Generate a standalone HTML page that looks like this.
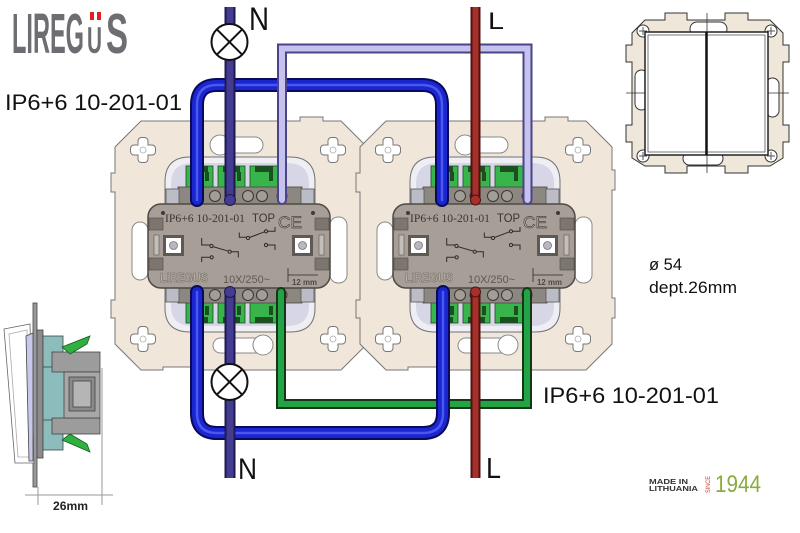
<!DOCTYPE html>
<html><head><meta charset="utf-8"><style>
html,body{margin:0;padding:0;background:#fff;}
svg{display:block;}
</style></head><body>
<svg width="800" height="533" viewBox="0 0 800 533" xmlns="http://www.w3.org/2000/svg" font-family="Liberation Sans, sans-serif">
<defs>
<g id="cr">
 <rect x="-12" y="-4.5" width="24" height="9" rx="3" fill="none" stroke="#777" stroke-width="2"/>
 <rect x="-4.5" y="-12" width="9" height="24" rx="3" fill="none" stroke="#777" stroke-width="2"/>
 <rect x="-12" y="-4.5" width="24" height="9" rx="3" fill="#fff"/>
 <rect x="-4.5" y="-12" width="9" height="24" rx="3" fill="#fff"/>
 <circle cx="0" cy="0" r="3" fill="none" stroke="#aaa" stroke-width="0.8"/>
</g>
<g id="plate">
 <path d="M0,26 L26,0 L185,0 L185,-4 L208,-4 L208,0 L226,0 L252,26 L252,49 L255,49 L255,69 L252,69 L252,177 L255,177 L255,197 L252,197 L252,223 L226,249 L85,249 L85,246 L48,246 L48,249 L26,249 L0,223 L0,197 L-4,197 L-4,179 L0,179 L0,71 L-4,71 L-4,52 L0,52 Z" fill="#f0e7da" stroke="#777" stroke-width="1"/>
 <use href="#cr" x="28" y="29"/>
 <use href="#cr" x="218" y="29"/>
 <use href="#cr" x="28" y="218"/>
 <use href="#cr" x="218" y="218"/>
 <g fill="#fff" stroke="#888" stroke-width="1">
  <rect x="100" y="16" width="48" height="16" rx="8"/>
  <circle cx="105" cy="24" r="10"/>
  <rect x="98" y="217" width="55" height="15" rx="7.5"/>
  <circle cx="148" cy="224" r="10"/>
  <rect x="17" y="101" width="16" height="58" rx="8"/>
  <rect x="215" y="96" width="17" height="66" rx="8"/>
 </g>
</g>
<g id="mod">
 <path d="M165,212 V182 Q165,157 190,157 H290 Q315,157 315,182 V212 Z" fill="#eeeef3" stroke="#707078"/>
 <path d="M171,210 V184 Q171,163 193,163 H287 Q309,163 309,184 V210 Z" fill="#d6d6e6"/>
 <g stroke="#1d4a22" stroke-width="0.8" fill="#38b54a">
  <rect x="186" y="166" width="27" height="22"/>
  <rect x="218" y="166" width="27" height="22"/>
  <rect x="250" y="166" width="28" height="22"/>
 </g>
 <g fill="#1b4f22">
  <rect x="191" y="166" width="17" height="6"/>
  <rect x="223" y="166" width="17" height="6"/>
  <rect x="255" y="166" width="18" height="6"/>
  <rect x="205" y="172" width="4" height="9"/>
  <rect x="237" y="172" width="4" height="9"/>
  <rect x="269" y="172" width="4" height="9"/>
 </g>
 <rect x="178" y="187" width="124" height="18" fill="#8d8781" stroke="#4a4540" stroke-width="0.8"/>
 <rect x="166" y="189" width="13" height="17" fill="#bcbcc6" stroke="#555" stroke-width="0.8"/>
 <rect x="301" y="189" width="13" height="17" fill="#bcbcc6" stroke="#555" stroke-width="0.8"/>
 <g fill="#a39d97" stroke="#3a3632" stroke-width="1">
  <circle cx="215" cy="196" r="5.5"/><circle cx="248" cy="196" r="5.5"/><circle cx="262" cy="196" r="5.5"/>
  <circle cx="197" cy="196" r="5"/><circle cx="230" cy="196" r="5"/><circle cx="282" cy="196" r="5"/>
 </g>
 <path d="M165,282 V308 Q165,332 190,332 H290 Q315,332 315,308 V282 Z" fill="#eeeef3" stroke="#707078"/>
 <path d="M171,284 V306 Q171,326 193,326 H287 Q309,326 309,306 V284 Z" fill="#d6d6e6"/>
 <g stroke="#1d4a22" stroke-width="0.8" fill="#38b54a">
  <rect x="186" y="302" width="27" height="21"/>
  <rect x="218" y="302" width="27" height="21"/>
  <rect x="250" y="302" width="28" height="21"/>
 </g>
 <g fill="#1b4f22">
  <rect x="191" y="317" width="17" height="6"/>
  <rect x="223" y="317" width="17" height="6"/>
  <rect x="255" y="317" width="18" height="6"/>
  <rect x="205" y="306" width="4" height="9"/>
  <rect x="237" y="306" width="4" height="9"/>
  <rect x="269" y="306" width="4" height="9"/>
 </g>
 <rect x="178" y="286" width="124" height="17" fill="#8d8781" stroke="#4a4540" stroke-width="0.8"/>
 <rect x="166" y="285" width="13" height="17" fill="#bcbcc6" stroke="#555" stroke-width="0.8"/>
 <rect x="301" y="285" width="13" height="17" fill="#bcbcc6" stroke="#555" stroke-width="0.8"/>
 <g fill="#a39d97" stroke="#3a3632" stroke-width="1">
  <circle cx="215" cy="295" r="5.5"/><circle cx="248" cy="295" r="5.5"/><circle cx="262" cy="295" r="5.5"/>
  <circle cx="197" cy="295" r="5"/><circle cx="230" cy="295" r="5"/><circle cx="282" cy="295" r="5"/>
 </g>
 <rect x="148" y="204" width="182" height="84" rx="13" fill="#a79f97" stroke="#4e4944" stroke-width="1.5"/>
 <g fill="#7d7670" stroke="#4e4944" stroke-width="0.6">
  <rect x="149" y="218" width="14" height="12"/>
  <rect x="149" y="258" width="14" height="12"/>
  <rect x="315" y="218" width="14" height="12"/>
  <rect x="315" y="258" width="14" height="12"/>
 </g>
 <g fill="#c4beb8" stroke="#5a5550" stroke-width="0.6">
  <rect x="154" y="235" width="5" height="20"/>
  <rect x="319" y="235" width="5" height="20"/>
 </g>
 <rect x="163" y="235" width="21" height="21" fill="#5e5954"/>
 <rect x="166" y="238" width="15" height="15" fill="#fff"/>
 <circle cx="173.5" cy="245.5" r="4" fill="#b8b8c2" stroke="#777" stroke-width="0.8"/>
 <rect x="292" y="235" width="21" height="21" fill="#5e5954"/>
 <rect x="295" y="238" width="15" height="15" fill="#fff"/>
 <circle cx="302.5" cy="245.5" r="4" fill="#b8b8c2" stroke="#777" stroke-width="0.8"/>
 <circle cx="163" cy="213" r="2" fill="#3e3a36"/>
 <circle cx="313" cy="213" r="2" fill="#3e3a36"/>
 <g fill="none" stroke="#2e2a26" stroke-width="1">
  <path d="M201.7,238 V245 H210"/>
  <path d="M212.5,246.5 L228.5,251.2"/>
  <path d="M231,251.7 H238.3 V257.5"/>
  <path d="M201.7,262 V257.3 H210"/>
  <path d="M239.3,232.5 V237.3 H246.5"/>
  <path d="M249.5,237.5 L264.5,231.8"/>
  <path d="M267.5,231.3 H275 V227"/>
  <path d="M267.5,245 H275 V250"/>
  <circle cx="211.5" cy="246" r="1.6"/>
  <circle cx="229.7" cy="251.7" r="1.6"/>
  <circle cx="211.7" cy="257.3" r="1.6"/>
  <circle cx="248" cy="238" r="1.6"/>
  <circle cx="266" cy="231.3" r="1.6"/>
  <circle cx="266" cy="245" r="1.6"/>
  <path d="M288,268 V282 M288,275 H318" stroke-width="0.8"/>
 </g>
</g>
</defs>
<rect width="800" height="533" fill="#fff"/>

<!-- Logo -->
<g fill="#6d6e71" font-weight="bold">
<text x="12" y="53" font-size="57" textLength="72" lengthAdjust="spacingAndGlyphs">LIREG</text>
<text x="87" y="53" font-size="37" textLength="15" lengthAdjust="spacingAndGlyphs">U</text>
<text x="106" y="53" font-size="57" textLength="22" lengthAdjust="spacingAndGlyphs">S</text>
</g>
<rect x="90" y="12" width="4" height="8" fill="#e02020"/>
<rect x="97" y="12" width="4" height="8" fill="#e02020"/>

<!-- plates -->
<use href="#plate" transform="translate(115,121)"/>
<use href="#plate" transform="translate(360,121)"/>

<!-- modules -->
<use href="#mod"/>
<use href="#mod" transform="translate(245,0)"/>

<!-- module text left -->
<g>
<text x="165" y="222" style="font-family:'Liberation Serif',serif" font-size="12" fill="#3a3530" textLength="80" lengthAdjust="spacingAndGlyphs">IP6+6 10-201-01</text>
<text x="252" y="222" font-size="12" fill="#3a3530" textLength="23" lengthAdjust="spacingAndGlyphs">TOP</text>
<text x="278" y="228" font-size="17" fill="#bdb6ae" stroke="#4a4540" stroke-width="0.7" textLength="24" lengthAdjust="spacingAndGlyphs">CE</text>
<text x="160" y="282" font-size="12.5" font-weight="bold" fill="#b8b0a8" stroke="#6a655f" stroke-width="0.5" textLength="48" lengthAdjust="spacingAndGlyphs">LIREGUS</text>
<text x="223" y="283" font-size="11" fill="#5e5954" textLength="47" lengthAdjust="spacingAndGlyphs">10X/250~</text>
<text x="292" y="285" font-size="8" font-weight="bold" fill="#4e4944" textLength="25" lengthAdjust="spacingAndGlyphs">12 mm</text>
</g>
<!-- module text right -->
<g transform="translate(245,0)">
<text x="165" y="222" style="font-family:'Liberation Serif',serif" font-size="12" fill="#3a3530" textLength="80" lengthAdjust="spacingAndGlyphs">IP6+6 10-201-01</text>
<text x="252" y="222" font-size="12" fill="#3a3530" textLength="23" lengthAdjust="spacingAndGlyphs">TOP</text>
<text x="278" y="228" font-size="17" fill="#bdb6ae" stroke="#4a4540" stroke-width="0.7" textLength="24" lengthAdjust="spacingAndGlyphs">CE</text>
<text x="160" y="282" font-size="12.5" font-weight="bold" fill="#b8b0a8" stroke="#6a655f" stroke-width="0.5" textLength="48" lengthAdjust="spacingAndGlyphs">LIREGUS</text>
<text x="223" y="283" font-size="11" fill="#5e5954" textLength="47" lengthAdjust="spacingAndGlyphs">10X/250~</text>
<text x="292" y="285" font-size="8" font-weight="bold" fill="#4e4944" textLength="25" lengthAdjust="spacingAndGlyphs">12 mm</text>
</g>

<!-- wires -->
<g fill="none">
 <!-- green -->
 <path d="M281,292 V404 H527 V292" stroke="#173617" stroke-width="10" stroke-linecap="round"/>
 <path d="M281,292 V404 H527 V292" stroke="#22a446" stroke-width="6" stroke-linecap="round"/>
 <!-- blue -->
 <path d="M197,200 V105 Q197,85 217,85 H422 Q442,85 442,105 V200" stroke="#0a0a5a" stroke-width="14" stroke-linecap="round"/>
 <path d="M197,200 V105 Q197,85 217,85 H422 Q442,85 442,105 V200" stroke="#1a26d0" stroke-width="10" stroke-linecap="round"/>
 <path d="M197,200 V105 Q197,85 217,85 H422 Q442,85 442,105 V200" stroke="#4a58ee" stroke-width="2.5" stroke-linecap="round"/>
 <path d="M197,292 V413 Q197,433 217,433 H423 Q443,433 443,413 V292" stroke="#0a0a5a" stroke-width="14" stroke-linecap="round"/>
 <path d="M197,292 V413 Q197,433 217,433 H423 Q443,433 443,413 V292" stroke="#1a26d0" stroke-width="10" stroke-linecap="round"/>
 <path d="M197,292 V413 Q197,433 217,433 H423 Q443,433 443,413 V292" stroke="#4a58ee" stroke-width="2.5" stroke-linecap="round"/>
 <!-- lavender -->
 <path d="M282,200 V48.5 H527.5 V200" stroke="#4c4488" stroke-width="10" stroke-linecap="round"/>
 <path d="M282,200 V48.5 H527.5 V200" stroke="#c6c2ee" stroke-width="6" stroke-linecap="round"/>
 <!-- N -->
 <path d="M230,7 V200" stroke="#1e1a50" stroke-width="11"/>
 <path d="M230,7 V200" stroke="#433c90" stroke-width="7"/>
 <path d="M230,292 V478" stroke="#1e1a50" stroke-width="11"/>
 <path d="M230,292 V478" stroke="#433c90" stroke-width="7"/>
 <!-- red -->
 <path d="M475.5,7 V200" stroke="#4e1210" stroke-width="10"/>
 <path d="M475.5,7 V200" stroke="#a8302a" stroke-width="6"/>
 <path d="M475.5,292 V478" stroke="#4e1210" stroke-width="10"/>
 <path d="M475.5,292 V478" stroke="#a8302a" stroke-width="6"/>
</g>
<g>
 <circle cx="230" cy="200" r="5.5" fill="#433c90" stroke="#1e1a50"/>
 <circle cx="230" cy="292" r="5.5" fill="#433c90" stroke="#1e1a50"/>
 <circle cx="475.5" cy="200" r="5" fill="#a8302a" stroke="#4e1210"/>
 <circle cx="475.5" cy="292" r="5" fill="#a8302a" stroke="#4e1210"/>
</g>

<!-- lamps -->
<g stroke="#111" stroke-width="2">
 <circle cx="229.5" cy="42" r="18" fill="#fff"/>
 <line x1="216.8" y1="29.3" x2="242.2" y2="54.7"/>
 <line x1="242.2" y1="29.3" x2="216.8" y2="54.7"/>
 <circle cx="229.5" cy="382" r="18" fill="#fff"/>
 <line x1="216.8" y1="369.3" x2="242.2" y2="394.7"/>
 <line x1="242.2" y1="369.3" x2="216.8" y2="394.7"/>
</g>

<!-- labels -->
<g fill="#111">
<text x="249" y="30" font-size="32" textLength="20" lengthAdjust="spacingAndGlyphs">N</text>
<text x="488" y="29" font-size="24.5" textLength="16" lengthAdjust="spacingAndGlyphs">L</text>
<text x="238" y="479" font-size="30" textLength="19" lengthAdjust="spacingAndGlyphs">N</text>
<text x="486" y="478" font-size="29" textLength="15" lengthAdjust="spacingAndGlyphs">L</text>
<text x="5" y="110" font-size="22" textLength="177" lengthAdjust="spacingAndGlyphs">IP6+6 10-201-01</text>
<text x="543" y="403" font-size="22" textLength="176" lengthAdjust="spacingAndGlyphs">IP6+6 10-201-01</text>
<text x="649" y="270" font-size="17" textLength="33" lengthAdjust="spacingAndGlyphs">ø 54</text>
<text x="649" y="293" font-size="17" textLength="88" lengthAdjust="spacingAndGlyphs">dept.26mm</text>
</g>

<!-- made in lithuania -->
<g fill="#333" font-weight="bold">
<text x="649" y="484" font-size="7" textLength="39" lengthAdjust="spacingAndGlyphs">MADE IN</text>
<text x="649" y="491" font-size="7" textLength="49" lengthAdjust="spacingAndGlyphs">LITHUANIA</text>
</g>
<text x="0" y="0" font-size="6" fill="#c0392b" transform="translate(710,493) rotate(-90)" textLength="17" lengthAdjust="spacingAndGlyphs">SINCE</text>
<text x="715" y="492" font-size="24" fill="#8aab3c" textLength="46" lengthAdjust="spacingAndGlyphs">1944</text>

<!-- face plate top right -->
<g>
 <path d="M645,20 L665,20 L665,13 L687,13 L687,20 L725,20 L725,13 L748,13 L748,20 L770,20 L783,33 L783,45 L789,45 L789,62 L783,62 L783,125 L789,125 L789,142 L783,142 L783,158 L770,166 L748,166 L748,173 L725,173 L725,166 L687,166 L687,173 L665,173 L665,166 L645,166 L632,158 L632,142 L626,142 L626,125 L632,125 L632,62 L626,62 L626,45 L632,45 L632,33 Z" fill="#efe7da" stroke="#333" stroke-width="1"/>
 <g fill="#fff" stroke="#333" stroke-width="1">
  <circle cx="643" cy="31" r="6"/><circle cx="771" cy="31" r="6"/>
  <circle cx="643" cy="156" r="6"/><circle cx="771" cy="156" r="6"/>
  <rect x="690" y="22" width="37" height="14" rx="7"/>
  <rect x="683" y="152" width="40" height="13" rx="6.5"/>
  <rect x="635" y="70" width="13" height="40" rx="6.5"/>
  <rect x="766" y="78" width="13" height="39" rx="6.5"/>
 </g>
 <g stroke="#555" stroke-width="1">
  <path d="M639,31 H647 M643,27 V35 M767,31 H775 M771,27 V35 M639,156 H647 M643,152 V160 M767,156 H775 M771,152 V160"/>
 </g>
 <g stroke="#333" stroke-width="0.8">
  <line x1="707" y1="13" x2="707" y2="32"/>
  <line x1="707" y1="155" x2="707" y2="173"/>
  <line x1="626" y1="93" x2="645" y2="93"/>
  <line x1="768" y1="93" x2="789" y2="93"/>
 </g>
 <rect x="645" y="32" width="123" height="123" fill="#fff" stroke="#222" stroke-width="1.5"/>
 <rect x="648" y="35" width="117" height="117" fill="none" stroke="#555" stroke-width="0.8"/>
 <line x1="706.5" y1="32" x2="706.5" y2="155" stroke="#111" stroke-width="2.5"/>
</g>

<!-- side view -->
<g stroke="#444" stroke-width="0.8">
 <rect x="33" y="303" width="4" height="184" fill="#9a9a9a"/>
 <polygon points="4,329 30,324 34,463 15,463" fill="#fff" stroke="#666"/>
 <polygon points="9,334 27,330 30,457 18,457" fill="none" stroke="#aaa"/>
 <polygon points="26,336 33,333 33,461 29,461" fill="#c8c8ec"/>
 <rect x="37" y="330" width="6" height="128" fill="#8c8c8c"/>
 <rect x="43" y="336" width="20" height="114" fill="#8cbcbc"/>
 <rect x="43" y="367" width="38" height="53" fill="#8cbcbc"/>
 <rect x="52" y="352" width="48" height="20" fill="#9c9c9c"/>
 <rect x="52" y="418" width="48" height="16" fill="#9c9c9c"/>
 <rect x="64" y="372" width="36" height="46" fill="#a8a8a8"/>
 <rect x="69" y="377" width="26" height="34" fill="#8a8a8a"/>
 <rect x="73" y="381" width="18" height="26" fill="#b5b5b5"/>
 <polygon points="62,347 90,336 87,344 70,354" fill="#2fb040" stroke="#1a5a22"/>
 <polygon points="62,440 90,452 87,444 70,434" fill="#2fb040" stroke="#1a5a22"/>
</g>
<g stroke="#999" stroke-width="1">
 <line x1="25" y1="495" x2="113" y2="495"/>
 <line x1="38" y1="487" x2="38" y2="505"/>
 <line x1="102" y1="368" x2="102" y2="505"/>
</g>
<text x="53" y="510" font-size="11.5" font-weight="bold" fill="#222" textLength="35" lengthAdjust="spacingAndGlyphs">26mm</text>
</svg>
</body></html>
